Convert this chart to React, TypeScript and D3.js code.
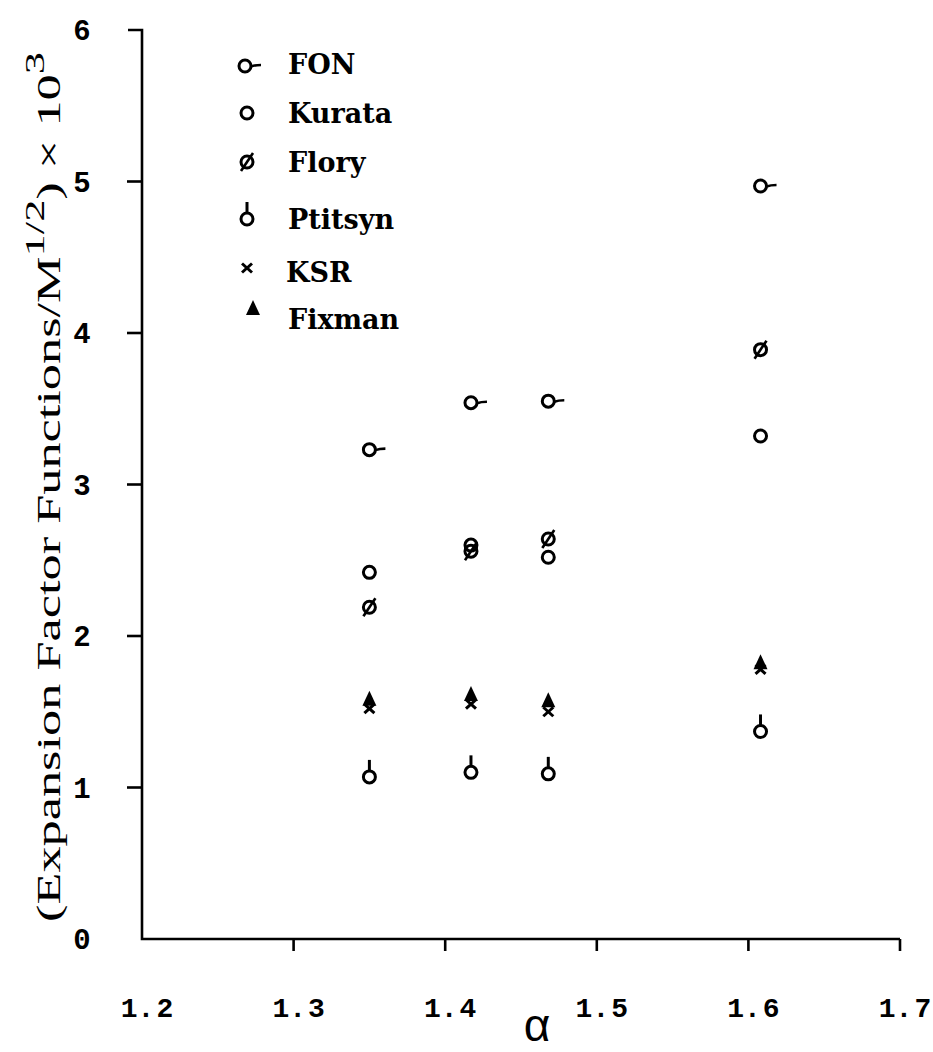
import React from "react";
import * as d3 from "d3";

// α values of the four polymer/solvent systems
const alphaValues = [1.35, 1.417, 1.468, 1.608];

// Expansion factor functions / M^(1/2) × 10^3
const fonValues = [3.23, 3.54, 3.55, 4.97];
const kurataValues = [2.42, 2.6, 2.52, 3.32];
const floryValues = [2.19, 2.56, 2.64, 3.89];
const ptitsynValues = [1.07, 1.1, 1.09, 1.37];
const ksrValues = [1.52, 1.55, 1.5, 1.78];
const fixmanValues = [1.58, 1.61, 1.57, 1.82];

const xTicks = [1.2, 1.3, 1.4, 1.5, 1.6, 1.7];
const yTicks = [0, 1, 2, 3, 4, 5, 6];

type SeriesKey = "FON" | "Kurata" | "Flory" | "Ptitsyn" | "KSR" | "Fixman";
const seriesNames: SeriesKey[] = ["FON", "Kurata", "Flory", "Ptitsyn", "KSR", "Fixman"];
const seriesValues: Record<SeriesKey, number[]> = {
  FON: fonValues,
  Kurata: kurataValues,
  Flory: floryValues,
  Ptitsyn: ptitsynValues,
  KSR: ksrValues,
  Fixman: fixmanValues,
};

const W = 933;
const H = 1052;
const ink = "#000";
const monoFont = "'Liberation Mono', 'DejaVu Sans Mono', monospace";
const serifFont = "'DejaVu Serif', 'Liberation Serif', serif";
const titleFont = "'Liberation Serif', 'DejaVu Serif', serif";

const x = d3.scaleLinear().domain([1.2, 1.7]).range([142, 900]);
const y = d3.scaleLinear().domain([0, 6]).range([939, 30]);

const R = 6;

function Marker({ kind, cx, cy }: { kind: SeriesKey; cx: number; cy: number }) {
  const sw = 3;
  switch (kind) {
    case "FON":
      return (
        <g>
          <circle cx={cx} cy={cy} r={R} fill="none" stroke={ink} strokeWidth={sw} />
          <path d={`M${cx + R},${cy + 0.5} Q${cx + R + 4},${cy - 1} ${cx + R + 10},${cy - 1}`} fill="none" stroke={ink} strokeWidth={2.6} />
        </g>
      );
    case "Kurata":
      return <circle cx={cx} cy={cy} r={R} fill="none" stroke={ink} strokeWidth={sw} />;
    case "Flory":
      return (
        <g>
          <circle cx={cx} cy={cy} r={R} fill="none" stroke={ink} strokeWidth={sw} />
          <line x1={cx - 6} y1={cy + 9} x2={cx + 6} y2={cy - 9} stroke={ink} strokeWidth={2.6} />
        </g>
      );
    case "Ptitsyn":
      return (
        <g>
          <circle cx={cx} cy={cy} r={R} fill="none" stroke={ink} strokeWidth={sw} />
          <line x1={cx} y1={cy - R} x2={cx} y2={cy - R - 11} stroke={ink} strokeWidth={3} />
        </g>
      );
    case "KSR":
      return (
        <g stroke={ink} strokeWidth={3}>
          <line x1={cx - 5} y1={cy - 4.5} x2={cx + 5} y2={cy + 4.5} />
          <line x1={cx - 5} y1={cy + 4.5} x2={cx + 5} y2={cy - 4.5} />
        </g>
      );
    case "Fixman":
      return <path d={`M${cx},${cy - 9} L${cx + 7},${cy + 6} L${cx - 7},${cy + 6} Z`} fill={ink} />;
  }
}

const legendRows: { key: SeriesKey; ty: number; mx: number; my: number; lx: number }[] = [
  { key: "FON", ty: 74, mx: 245, my: 66, lx: 288 },
  { key: "Kurata", ty: 123, mx: 247, my: 113, lx: 288 },
  { key: "Flory", ty: 172, mx: 247, my: 162, lx: 288 },
  { key: "Ptitsyn", ty: 229, mx: 247, my: 219, lx: 288 },
  { key: "KSR", ty: 282, mx: 247, my: 268, lx: 286 },
  { key: "Fixman", ty: 329, mx: 253, my: 309, lx: 288 },
];

export default function App() {
  return (
    <svg width={W} height={H} style={{ display: "block", position: "absolute", left: 0, top: 0, background: "#fff" }}>
      {/* axes */}
      <g stroke={ink} strokeWidth={2.6} fill="none">
        <path d={`M${x(1.7)},${y(0)} H${x(1.2)} V${y(6)} H128`} />
        {yTicks.slice(1, 6).map((t) => (
          <line key={t} x1={127} x2={x(1.2)} y1={y(t)} y2={y(t)} />
        ))}
        {xTicks.slice(1).map((t) => (
          <line key={t} x1={x(t)} x2={x(t)} y1={y(0)} y2={y(0) + 12} />
        ))}
      </g>
      {/* y tick labels */}
      {yTicks.map((t) => (
        <text key={t} x={82} y={y(t) + 10} textAnchor="middle" fontFamily={monoFont} fontWeight="bold" fontSize={29}>
          {t}
        </text>
      ))}
      {/* x tick labels */}
      {xTicks.map((t) => {
        const [a, b] = d3.format(".1f")(t).split(".");
        return (
          <text key={t} x={x(t) + 5} y={1017} textAnchor="middle" fontFamily={monoFont} fontWeight="bold" fontSize={28}>
            {a}.<tspan dx={2}>{b}</tspan>
          </text>
        );
      })}
      {/* x axis title */}
      <text x={537} y={1041} textAnchor="middle" fontFamily="'Liberation Sans', 'DejaVu Sans', sans-serif" fontSize={46}>
        α
      </text>
      {/* y axis title */}
      <text
        transform="translate(60,487) rotate(-90)"
        textAnchor="middle"
        fontFamily={titleFont}
        fontSize={33}
        textLength={870}
        lengthAdjust="spacingAndGlyphs"
      >
        (Expansion Factor Functions/M
        <tspan dy={-16} fontSize={28}>1/2</tspan>
        <tspan dy={16}>) × 10</tspan>
        <tspan dy={-16} fontSize={28}>3</tspan>
      </text>
      {/* data */}
      {seriesNames.map((name) =>
        seriesValues[name].map((v, i) => (
          <Marker key={`${name}-${i}`} kind={name} cx={x(alphaValues[i])} cy={y(v)} />
        ))
      )}
      {/* legend */}
      {legendRows.map((r) => (
        <g key={r.key}>
          <Marker kind={r.key} cx={r.mx} cy={r.my} />
          <text x={r.lx} y={r.ty} fontFamily={serifFont} fontWeight="bold" fontSize={27}>
            {r.key}
          </text>
        </g>
      ))}
    </svg>
  );
}
